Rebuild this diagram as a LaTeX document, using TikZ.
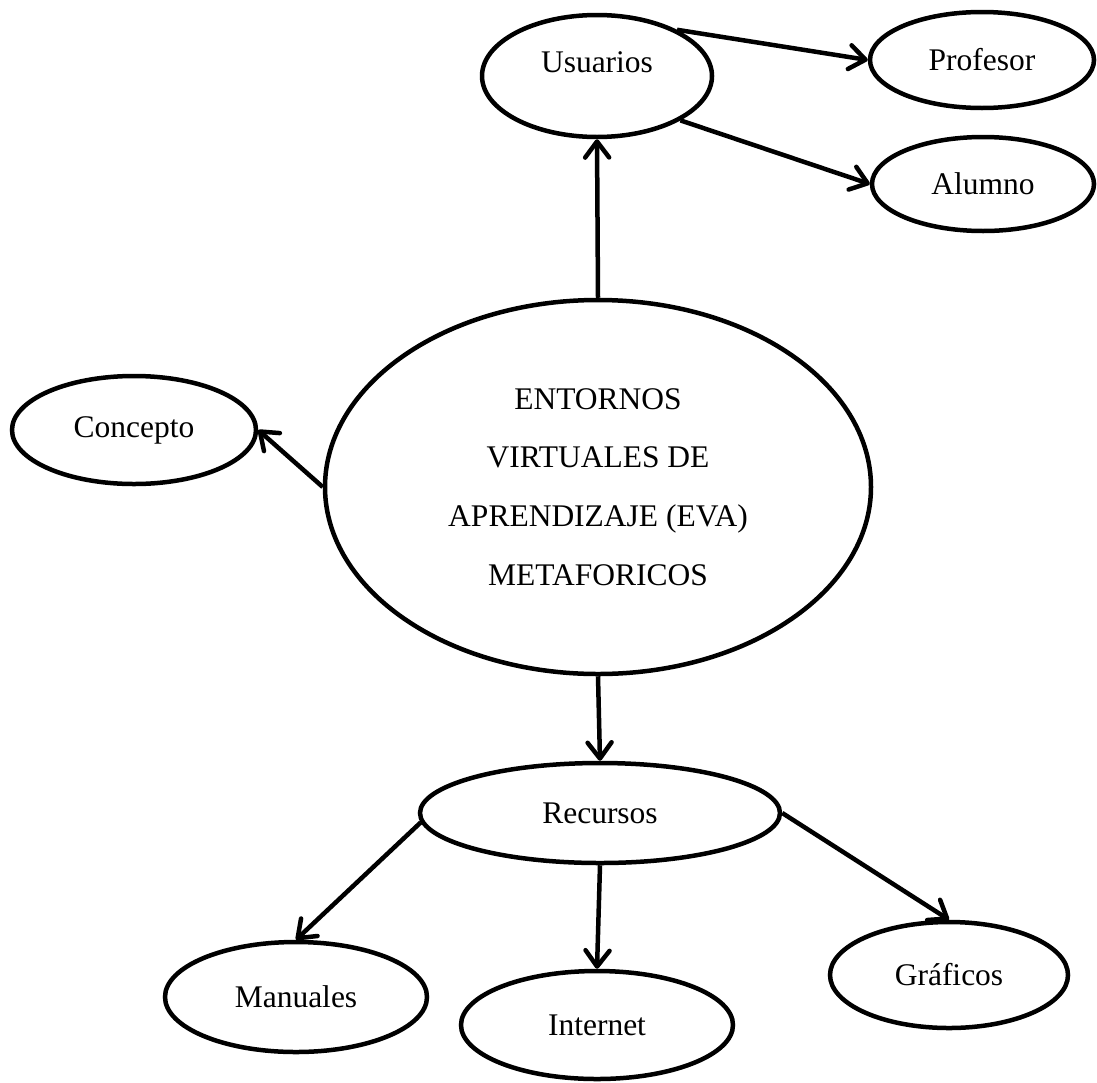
\documentclass[tikz,border=0pt]{standalone}
\usepackage{fontspec}
\setmainfont{Liberation Serif}
\usetikzlibrary{shapes.geometric,arrows.meta}

\begin{document}
\begin{tikzpicture}[x=1pt, y=-1pt, line width=4.5pt,
  every node/.style={font=\fontsize{31.5}{58.7}\selectfont},
  oval/.style={draw, ellipse, inner sep=0pt},
  link/.style={-{Straight Barb[length=16pt,width=24pt,round]}}]
  \useasboundingbox (0,0) rectangle (1097,1082);
  \node[oval, minimum width=546pt, minimum height=374pt, align=center] (eva) at (598,487)
    {ENTORNOS\\VIRTUALES DE\\APRENDIZAJE (EVA)\\METAFORICOS};
  \node[oval, minimum width=230pt, minimum height=122pt, text depth=28pt] (usuarios) at (597,76) {Usuarios};
  \node[oval, minimum width=224pt, minimum height=96pt] (profesor) at (982,60) {Profesor};
  \node[oval, minimum width=222pt, minimum height=94pt] (alumno) at (983,184) {Alumno};
  \node[oval, minimum width=244pt, minimum height=108pt] (concepto) at (134,430) {Concepto};
  \node[oval, minimum width=360pt, minimum height=100pt] (recursos) at (600,813) {Recursos};
  \node[oval, minimum width=262pt, minimum height=110pt] (manuales) at (296,997) {Manuales};
  \node[oval, minimum width=272pt, minimum height=108pt] (internet) at (597,1025) {Internet};
  \node[oval, minimum width=238pt, minimum height=106pt] (graficos) at (949,975) {Gráficos};
  \draw[link] (eva.north) -- (usuarios.south);
  \draw[link] (usuarios.30) -- (profesor.west);
  \draw[link] (usuarios.-28) -- (alumno.west);
  \draw[link] (eva.west) -- (concepto.east);
  \draw[link] (eva.south) -- (recursos.north);
  \draw[link] (recursos.183) -- (manuales.north);
  \draw[link] (recursos.south) -- (internet.north);
  \draw[link] (recursos.east) -- (graficos.north);
\end{tikzpicture}
\end{document}
